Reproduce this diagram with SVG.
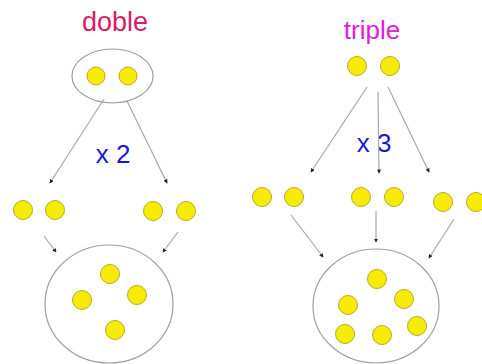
<svg xmlns="http://www.w3.org/2000/svg" width="482" height="364" viewBox="0 0 482 364">
<style>
.dot{fill:#f7ec00;stroke:#b8ab2a;stroke-width:1}
.ring{fill:none;stroke:#a0a0a0;stroke-width:1.2}
.conn{stroke:#a8a8a8;stroke-width:1.2;fill:none;marker-end:url(#ah)}
.lbl{font-family:"Liberation Sans",Arial,sans-serif}
</style>
<defs>
<marker id="ah" viewBox="0 0 6 6" refX="5" refY="3" markerWidth="3.5" markerHeight="3.5" orient="auto" markerUnits="strokeWidth">
<path d="M0,0 L6,3 L0,6 z" fill="#222"/>
</marker>
</defs>
<rect width="482" height="364" fill="#fff"/>
<g id="title-doble"><text class="lbl" x="115" y="31" font-size="27" fill="#d81b6a" text-anchor="middle">doble</text></g>
<g id="title-triple"><text class="lbl" x="372" y="39" font-size="26" fill="#e020d8" text-anchor="middle">triple</text></g>
<g id="label-x2"><text class="lbl" x="113" y="163" font-size="26" fill="#1a1ad0" text-anchor="middle">x 2</text></g>
<g id="label-x3"><text class="lbl" x="374" y="152" font-size="26" fill="#1a1ad0" text-anchor="middle">x 3</text></g>

<g id="connectors">
<line class="conn" x1="104" y1="99" x2="50" y2="183"/>
<line class="conn" x1="127" y1="101" x2="167" y2="183"/>
<line class="conn" x1="44" y1="236" x2="56" y2="252"/>
<line class="conn" x1="178" y1="232" x2="163" y2="252"/>
<line class="conn" x1="367" y1="87" x2="311" y2="172"/>
<line class="conn" x1="378" y1="92" x2="379" y2="173"/>
<line class="conn" x1="388" y1="87" x2="429" y2="172"/>
<line class="conn" x1="291" y1="215" x2="323" y2="257"/>
<line class="conn" x1="376" y1="211" x2="376" y2="242"/>
<line class="conn" x1="454" y1="219" x2="429" y2="258"/>
</g>

<g id="doble-start">
<ellipse class="ring" cx="112.5" cy="76" rx="40.5" ry="27"/>
<circle class="dot" cx="96" cy="76" r="9"/>
<circle class="dot" cx="128" cy="76" r="9"/>
</g>
<g id="doble-pair1">
<circle class="dot" cx="23" cy="210" r="9.5"/>
<circle class="dot" cx="55" cy="210" r="9.5"/>
</g>
<g id="doble-pair2">
<circle class="dot" cx="153" cy="211" r="9.5"/>
<circle class="dot" cx="186" cy="211" r="9.5"/>
</g>
<g id="doble-result">
<ellipse class="ring" cx="109" cy="304" rx="64" ry="59"/>
<circle class="dot" cx="110" cy="274" r="9.5"/>
<circle class="dot" cx="82" cy="300" r="9.5"/>
<circle class="dot" cx="137" cy="295" r="9.5"/>
<circle class="dot" cx="115" cy="330" r="9.5"/>
</g>

<g id="triple-start">
<circle class="dot" cx="357" cy="66" r="9.5"/>
<circle class="dot" cx="390" cy="66" r="9.5"/>
</g>
<g id="triple-pair1">
<circle class="dot" cx="262" cy="197" r="9.5"/>
<circle class="dot" cx="294" cy="197" r="9.5"/>
</g>
<g id="triple-pair2">
<circle class="dot" cx="361" cy="197" r="9.5"/>
<circle class="dot" cx="394" cy="197" r="9.5"/>
</g>
<g id="triple-pair3">
<circle class="dot" cx="443" cy="202" r="9.5"/>
<circle class="dot" cx="476" cy="202" r="9.5"/>
</g>
<g id="triple-result">
<ellipse class="ring" cx="376" cy="306" rx="63" ry="57"/>
<circle class="dot" cx="377" cy="279" r="9.5"/>
<circle class="dot" cx="348" cy="305" r="9.5"/>
<circle class="dot" cx="404" cy="299" r="9.5"/>
<circle class="dot" cx="345" cy="334" r="9.5"/>
<circle class="dot" cx="382" cy="335" r="9.5"/>
<circle class="dot" cx="417" cy="326" r="9.5"/>
</g>
</svg>
